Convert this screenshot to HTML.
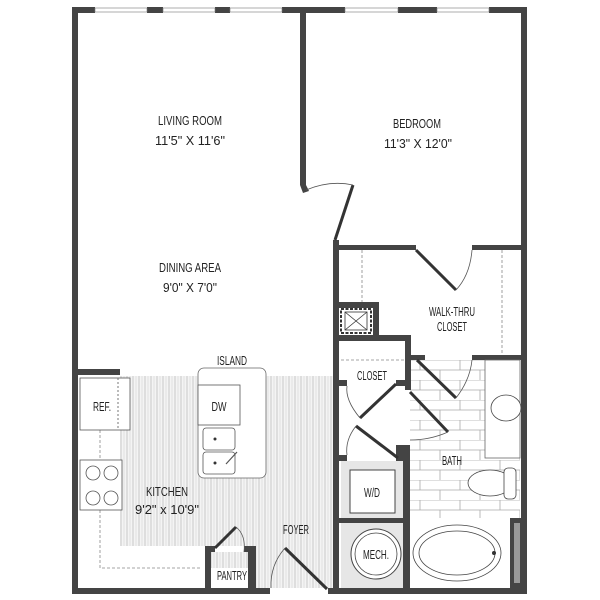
<!DOCTYPE html>
<html><head><meta charset="utf-8"><style>
html,body{margin:0;padding:0;background:#fff}
svg{display:block}
text{font-family:"Liberation Sans Narrow","Liberation Sans",sans-serif;fill:#222;text-anchor:middle;font-size:13px}
</style></head><body>
<svg width="600" height="600" viewBox="0 0 600 600" xmlns="http://www.w3.org/2000/svg">
<defs>
<pattern id="hatch" width="6" height="40" patternUnits="userSpaceOnUse">
<rect width="6" height="40" fill="#f4f4f4"/>
<line x1="1" y1="0" x2="1" y2="40" stroke="#c8c8c8" stroke-width="1"/>
<line x1="4" y1="0" x2="4" y2="40" stroke="#d6d6d6" stroke-width="0.7"/>
</pattern>
<pattern id="tile" width="40" height="20" patternUnits="userSpaceOnUse" x="410" y="360">
<rect width="40" height="20" fill="#fff"/>
<line x1="0" y1="0" x2="40" y2="0" stroke="#aaa" stroke-width="0.8"/>
<line x1="0" y1="10" x2="40" y2="10" stroke="#aaa" stroke-width="0.8"/>
<line x1="10" y1="0" x2="10" y2="10" stroke="#aaa" stroke-width="0.8"/>
<line x1="30" y1="10" x2="30" y2="20" stroke="#aaa" stroke-width="0.8"/>
</pattern>
</defs>

<rect x="120" y="376" width="213" height="170" fill="url(#hatch)"/>
<rect x="256" y="546" width="77" height="42" fill="url(#hatch)"/>
<rect x="210" y="552" width="38" height="16" fill="url(#hatch)"/>
<rect x="410" y="360" width="110" height="158" fill="url(#tile)"/>

<g fill="#444">
<rect x="72" y="7" width="23" height="6"/>
<rect x="147" y="7" width="16" height="6"/>
<rect x="215" y="7" width="15" height="6"/>
<rect x="282" y="7" width="63" height="6"/>
<rect x="398" y="7" width="39" height="6"/>
<rect x="489" y="7" width="38" height="6"/>
<rect x="72" y="7" width="6" height="587"/>
<rect x="521" y="7" width="6" height="587"/>
<rect x="72" y="588" width="198" height="6"/>
<rect x="328" y="588" width="199" height="6"/>
<rect x="300" y="7" width="6" height="178"/>
<polygon points="300,185 306,185 309,191 303,193"/>
<rect x="333" y="245" width="83" height="5"/>
<rect x="472" y="245" width="55" height="5"/>
<rect x="333" y="240" width="6" height="354"/>
<rect x="333" y="302" width="45" height="6"/>
<rect x="373" y="302" width="6" height="38"/>
<rect x="333" y="335" width="78" height="6"/>
<rect x="405" y="335" width="6" height="55"/>
<rect x="405" y="355" width="20" height="5"/>
<rect x="472" y="355" width="55" height="5"/>
<rect x="333" y="380" width="14" height="6"/>
<rect x="396" y="380" width="15" height="6"/>
<rect x="333" y="455" width="14" height="6"/>
<rect x="396" y="445" width="14" height="16"/>
<rect x="403" y="445" width="7" height="143"/>
<rect x="333" y="518" width="75" height="5"/>
<rect x="72" y="369" width="48" height="6"/>
<rect x="205" y="546" width="6" height="48"/>
<rect x="248" y="546" width="8" height="48"/>
<rect x="205" y="546" width="10" height="6"/>
<rect x="244" y="546" width="12" height="6"/>
<rect x="510" y="518" width="11" height="70"/>
</g>

<g fill="#fff" stroke="#777" stroke-width="0.6">
<rect x="95" y="8" width="52" height="4"/><rect x="163" y="8" width="52" height="4"/><rect x="230" y="8" width="52" height="4"/>
<rect x="345" y="8" width="53" height="4"/><rect x="437" y="8" width="52" height="4"/>
</g>
<rect x="514" y="523" width="6" height="60" fill="#999"/>

<g stroke="#333" stroke-width="3" fill="none">
<line x1="353" y1="185" x2="335" y2="240"/>
<line x1="416" y1="250" x2="456" y2="290"/>
<line x1="396" y1="384" x2="360" y2="418"/>
<line x1="356" y1="426" x2="398" y2="458"/>
<line x1="417" y1="360" x2="456" y2="398"/>
<line x1="410" y1="392" x2="448" y2="432"/>
<line x1="215" y1="548" x2="236" y2="527"/>
<line x1="285" y1="548" x2="327" y2="589"/>
</g>
<g stroke="#555" stroke-width="0.8" fill="none">
<path d="M306,190 Q330,180 353,185"/>
<path d="M456,290 Q470,275 472,250"/>
<path d="M360,418 Q345,400 347,386"/>
<path d="M356,426 Q345,440 347,455"/>
<path d="M456,398 Q470,380 472,360"/>
<path d="M448,432 Q430,440 410,440"/>
<path d="M236,527 Q246,535 244,552"/>
<path d="M285,548 Q270,565 271,588"/>
</g>

<g stroke="#888" stroke-width="0.8" stroke-dasharray="3,2" fill="none">
<line x1="362" y1="250" x2="362" y2="302"/>
<line x1="502" y1="250" x2="502" y2="355"/>
<line x1="341" y1="360" x2="405" y2="360"/>
<polyline points="100,430 100,568 200,568"/>
<rect x="203" y="376" width="50" height="96"/>
</g>

<rect x="341" y="309" width="30" height="24" fill="#fff" stroke="#333" stroke-width="2" stroke-dasharray="3,1.5"/>
<g stroke="#333" stroke-width="0.8"><line x1="345" y1="312" x2="367" y2="330"/><line x1="367" y1="312" x2="345" y2="330"/><rect x="345" y="312" width="22" height="18" fill="none"/></g>

<rect x="341" y="461" width="62" height="57" fill="#e6e6e6"/>
<rect x="350" y="470" width="45" height="43" fill="#fff" stroke="#444" stroke-width="1"/>
<rect x="341" y="523" width="62" height="65" fill="#e6e6e6"/>
<circle cx="376" cy="554" r="25" fill="#fff" stroke="#444" stroke-width="1"/>
<circle cx="376" cy="554" r="21" fill="none" stroke="#444" stroke-width="0.8"/>

<rect x="485" y="360" width="35" height="98" fill="#fff" stroke="#666" stroke-width="0.8"/>
<ellipse cx="506" cy="408" rx="15" ry="13" fill="#fff" stroke="#444" stroke-width="0.8"/>
<ellipse cx="490" cy="483" rx="22" ry="13" fill="#fff" stroke="#444" stroke-width="0.8"/>
<rect x="504" y="468" width="12" height="31" rx="4" fill="#fff" stroke="#444" stroke-width="0.8"/>
<rect x="410" y="518" width="100" height="70" fill="#fff"/>
<ellipse cx="457" cy="553" rx="44" ry="28" fill="#fff" stroke="#444" stroke-width="0.8"/>
<ellipse cx="457" cy="553" rx="38" ry="22" fill="none" stroke="#444" stroke-width="0.8"/>
<circle cx="494" cy="553" r="2" fill="#333"/>

<rect x="80" y="378" width="50" height="52" fill="#fff" stroke="#555" stroke-width="0.8"/>
<line x1="118" y1="378" x2="118" y2="430" stroke="#777" stroke-dasharray="2,2"/>
<rect x="80" y="460" width="42" height="50" fill="#fff" stroke="#555" stroke-width="0.8"/>
<g fill="#fff" stroke="#555" stroke-width="0.8">
<circle cx="93" cy="473" r="7"/><circle cx="111" cy="473" r="7"/>
<circle cx="93" cy="498" r="7"/><circle cx="111" cy="498" r="7"/>
</g>
<rect x="198" y="368" width="68" height="110" rx="6" fill="#fff" stroke="#666" stroke-width="0.8"/>
<rect x="198" y="385" width="42" height="40" fill="#fff" stroke="#555" stroke-width="0.8"/>
<rect x="203" y="428" width="32" height="22" rx="3" fill="#fff" stroke="#555" stroke-width="0.8"/>
<rect x="203" y="452" width="32" height="22" rx="3" fill="#fff" stroke="#555" stroke-width="0.8"/>
<circle cx="215" cy="439" r="1.5" fill="#333"/><circle cx="215" cy="463" r="1.5" fill="#333"/>
<line x1="226" y1="464" x2="237" y2="452" stroke="#555" stroke-width="1.2"/>

<g lengthAdjust="spacingAndGlyphs">
<text x="190" y="125" textLength="64" lengthAdjust="spacingAndGlyphs">LIVING ROOM</text>
<text x="190" y="145" textLength="70" lengthAdjust="spacingAndGlyphs">11'5" X 11'6"</text>
<text x="417" y="128" textLength="48" lengthAdjust="spacingAndGlyphs">BEDROOM</text>
<text x="418" y="148" textLength="68" lengthAdjust="spacingAndGlyphs">11'3" X 12'0"</text>
<text x="190" y="272" textLength="62" lengthAdjust="spacingAndGlyphs">DINING AREA</text>
<text x="190" y="292" textLength="54" lengthAdjust="spacingAndGlyphs">9'0" X 7'0"</text>
<text x="232" y="365" font-size="11" textLength="30" lengthAdjust="spacingAndGlyphs">ISLAND</text>
<text x="102" y="411" font-size="11" textLength="18" lengthAdjust="spacingAndGlyphs">REF.</text>
<text x="219" y="411" font-size="11" textLength="15" lengthAdjust="spacingAndGlyphs">DW</text>
<text x="167" y="496" textLength="42" lengthAdjust="spacingAndGlyphs">KITCHEN</text>
<text x="167" y="514" textLength="64" lengthAdjust="spacingAndGlyphs">9'2" x 10'9"</text>
<text x="296" y="534" font-size="11" textLength="26" lengthAdjust="spacingAndGlyphs">FOYER</text>
<text x="232" y="580" font-size="11" textLength="30" lengthAdjust="spacingAndGlyphs">PANTRY</text>
<text x="452" y="316" font-size="11" textLength="46" lengthAdjust="spacingAndGlyphs">WALK-THRU</text>
<text x="452" y="331" font-size="11" textLength="30" lengthAdjust="spacingAndGlyphs">CLOSET</text>
<text x="372" y="380" font-size="11" textLength="30" lengthAdjust="spacingAndGlyphs">CLOSET</text>
<text x="452" y="465" font-size="11" textLength="20" lengthAdjust="spacingAndGlyphs">BATH</text>
<text x="372" y="497" font-size="11" textLength="16" lengthAdjust="spacingAndGlyphs">W/D</text>
<text x="376" y="559" font-size="11" textLength="26" lengthAdjust="spacingAndGlyphs">MECH.</text>
</g>
</svg>
</body></html>
